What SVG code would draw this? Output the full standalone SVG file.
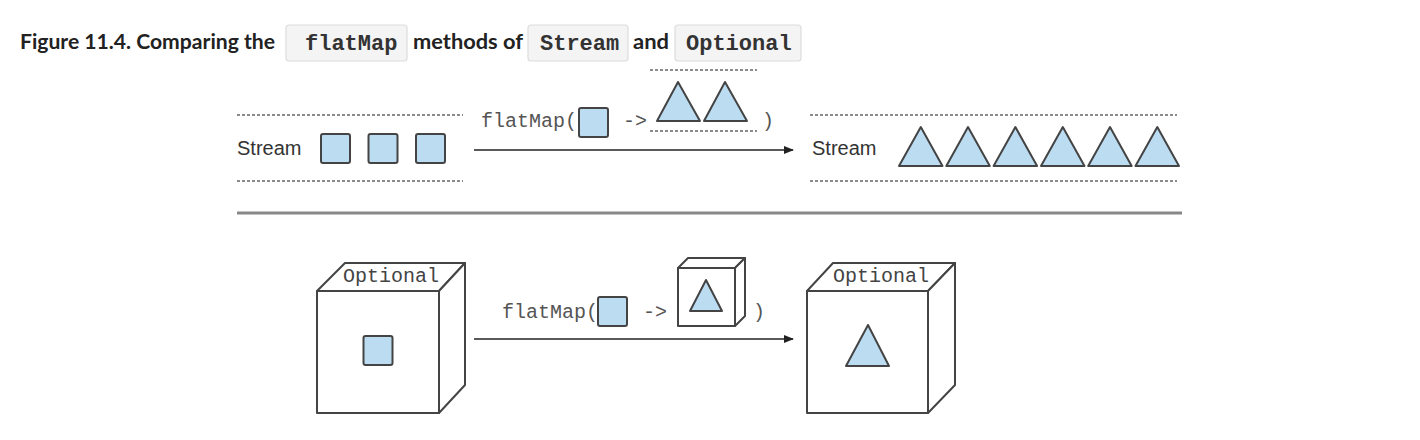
<svg xmlns="http://www.w3.org/2000/svg" width="1420" height="440" viewBox="0 0 1420 440">
<style>
.title{font-family:Lato,"Liberation Sans",sans-serif;font-weight:bold;font-size:21px;fill:#222}
.chip{fill:#f4f4f4;stroke:#dcdcdc;stroke-width:1.2}
.chiptxt{font-family:"Liberation Mono","DejaVu Sans Mono",monospace;font-weight:bold;font-size:22px;fill:#333}
.code{font-family:"Liberation Mono","DejaVu Sans Mono",monospace;font-size:20px;fill:#555}
.lbl{font-family:"Liberation Sans",Arial,sans-serif;font-size:20px;fill:#333}
.item{fill:#bcdcf2;stroke:#444;stroke-width:2;stroke-linejoin:round}
.dash{stroke:#666;stroke-width:1.5;stroke-dasharray:3 2;fill:none}
.cube{fill:#fff;stroke:#444;stroke-width:2;stroke-linejoin:round}
.conn{stroke:#222;stroke-width:1.5;fill:none}
</style>
<defs>
<marker id="ah" markerWidth="10" markerHeight="8" refX="9" refY="4" orient="auto" markerUnits="userSpaceOnUse">
<path d="M0,0 L10,4 L0,8 Z" fill="#222"/>
</marker>
<rect id="sq" width="29" height="29" rx="2"/>
</defs>
<rect width="1420" height="440" fill="#fff"/>

<g id="title">
<text class="title" x="20" y="49" textLength="255" lengthAdjust="spacingAndGlyphs">Figure 11.4. Comparing the</text>
<rect class="chip" x="286" y="25" width="121" height="36" rx="3"/>
<text class="chiptxt" x="305" y="50">flatMap</text>
<text class="title" x="413" y="49" textLength="110" lengthAdjust="spacingAndGlyphs">methods of</text>
<rect class="chip" x="528" y="25" width="100" height="36" rx="3"/>
<text class="chiptxt" x="540" y="50">Stream</text>
<text class="title" x="633" y="49" textLength="36" lengthAdjust="spacingAndGlyphs">and</text>
<rect class="chip" x="675" y="25" width="126" height="36" rx="3"/>
<text class="chiptxt" x="686" y="50">Optional</text>
</g>

<g id="stream-in">
<line class="dash" x1="237" y1="115" x2="463" y2="115"/>
<line class="dash" x1="237" y1="181" x2="463" y2="181"/>
<text class="lbl" x="237" y="155">Stream</text>
<use href="#sq" class="item" x="321" y="134"/>
<use href="#sq" class="item" x="368.5" y="134"/>
<use href="#sq" class="item" x="416" y="134"/>
</g>

<g id="stream-fn">
<text class="code" x="481" y="127">flatMap(</text>
<use href="#sq" class="item" x="579" y="108"/>
<text class="code" x="623" y="127">-&gt;</text>
<line class="dash" x1="650" y1="70" x2="757" y2="70"/>
<line class="dash" x1="650" y1="131" x2="757" y2="131"/>
<polygon class="item" points="657,121 678,82 700,121"/>
<polygon class="item" points="704,121 725,82 747,121"/>
<text class="code" x="762" y="127">)</text>
</g>

<g id="stream-out">
<line class="dash" x1="810" y1="115" x2="1177" y2="115"/>
<line class="dash" x1="810" y1="181" x2="1177" y2="181"/>
<text class="lbl" x="812" y="155">Stream</text>
<polygon class="item" points="899,166 920.8,127 942.5,166"/>
<polygon class="item" points="946.3,166 968,127 989.8,166"/>
<polygon class="item" points="993.6,166 1015.4,127 1037.1,166"/>
<polygon class="item" points="1041,166 1062.8,127 1084.5,166"/>
<polygon class="item" points="1088.2,166 1110,127 1131.7,166"/>
<polygon class="item" points="1135.5,166 1157.3,127 1179,166"/>
</g>

<g id="separator">
<line x1="237" y1="213" x2="1182" y2="213" stroke="#888" stroke-width="3"/>
</g>

<g id="optional-in">
<polygon class="cube" points="317,291 345,263 465,263 439,291"/>
<polygon class="cube" points="439,291 465,263 465,385 439,413"/>
<rect class="cube" x="317" y="291" width="122" height="122"/>
<text class="code" x="343" y="282" style="fill:#444">Optional</text>
<use href="#sq" class="item" x="363.5" y="336"/>
</g>

<g id="optional-fn">
<text class="code" x="502" y="318">flatMap(</text>
<use href="#sq" class="item" x="598" y="297"/>
<text class="code" x="643" y="318">-&gt;</text>
<polygon class="cube" points="678,268 688,258 745,258 735,268"/>
<polygon class="cube" points="735,268 745,258 745,316 735,326"/>
<rect class="cube" x="678" y="268" width="57" height="58"/>
<polygon class="item" points="690,311 706,280 722,311"/>
<text class="code" x="753" y="318">)</text>
</g>

<g id="optional-out">
<polygon class="cube" points="807,291 833,263 955,263 928,291"/>
<polygon class="cube" points="928,291 955,263 955,385 928,413"/>
<rect class="cube" x="807" y="291" width="121" height="122"/>
<text class="code" x="833" y="282" style="fill:#444">Optional</text>
<polygon class="item" points="846,366 868,325 889,366"/>
</g>

<g id="connectors">
<line class="conn" x1="474" y1="150" x2="793" y2="150" marker-end="url(#ah)"/>
<line class="conn" x1="474" y1="339" x2="793" y2="339" marker-end="url(#ah)"/>
</g>
</svg>
